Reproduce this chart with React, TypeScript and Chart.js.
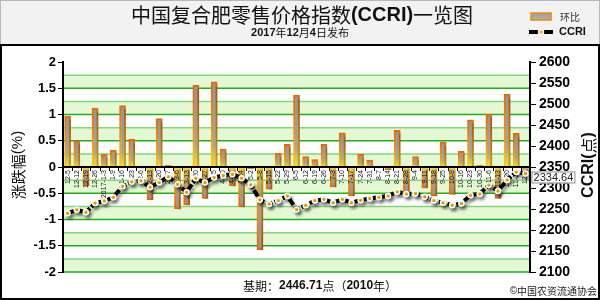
import React, { useEffect, useRef } from "react";
import { Chart, registerables } from "chart.js";

Chart.register(...registerables);

const categories: string[] = [
  "12-5", "12-12", "12-19", "12-26", "2017-1-3", "1-9", "1-16", "1-23", "2-6", "2-13",
  "2-20", "2-27", "3-6", "3-13", "3-20", "3-27", "4-5", "4-10", "4-17", "4-24",
  "5-2", "5-8", "5-15", "5-22", "5-29", "6-5", "6-12", "6-19", "6-26", "7-3",
  "7-10", "7-17", "7-24", "7-31", "8-7", "8-14", "8-21", "8-28", "9-4", "9-11",
  "9-18", "9-25", "10-9", "10-16", "10-23", "10-30", "11-6", "11-13", "11-20", "11-27",
  "12-4",
];

const changePct: number[] = [
  0.97, 0.5, -0.36, 1.12, 0.24, 0.32, 1.17, 0.53, -0.02, -0.62,
  0.92, 0.03, -0.8, -0.72, 1.56, -0.6, 1.62, 0.34, -0.36, -0.76,
  -0.03, -1.58, -0.42, 0.26, 0.43, 1.37, 0.2, 0.14, 0.43, -0.38,
  0.65, -0.55, 0.24, 0.13, 0.01, -0.05, 0.7, -0.5, 0.2, -0.4,
  -0.55, 0.48, -0.52, 0.3, 0.9, 0.03, 1.01, -0.6, 1.39, 0.64,
  -0.12,
];

const ccriIndex: number[] = [
  2240, 2248, 2242, 2264, 2269, 2278, 2304, 2315, 2317, 2302,
  2313, 2327, 2309, 2290, 2323, 2313, 2325, 2330, 2333, 2323,
  2308, 2272, 2262, 2270, 2281, 2249, 2259, 2270, 2273, 2265,
  2273, 2265, 2271, 2275, 2278, 2281, 2291, 2286, 2287, 2279,
  2270, 2265, 2259, 2263, 2283, 2286, 2307, 2293, 2319, 2338,
  2334.64,
];

const leftRange: number[] = [-2, 2, 0.5];
const rightRange: number[] = [2100, 2600, 50];

const TITLE = "中国复合肥零售价格指数(CCRI)一览图";
const SUBTITLE = "2017年12月4日发布";
const LEGEND_BAR = "环比";
const LEGEND_LINE = "CCRI";
const LEFT_TITLE = "涨跌幅(%)";
const RIGHT_TITLE = "CCRI(点)";
const BASE_NOTE = "基期：2446.71点（2010年）";
const COPYRIGHT = "©中国农资流通协会";

const LATIN = '"Liberation Sans", Arial, sans-serif';
const CJK = '"Noto Sans CJK SC", sans-serif';

function splitRuns(text: string) {
  const out: { t: string; cjk: boolean }[] = [];
  for (const ch of text) {
    const cjk = ch.charCodeAt(0) >= 0x2e80;
    if (out.length && out[out.length - 1].cjk === cjk) out[out.length - 1].t += ch;
    else out.push({ t: ch, cjk });
  }
  return out;
}

function drawMixed(
  ctx: CanvasRenderingContext2D,
  text: string,
  x: number,
  y: number,
  align: "left" | "center" | "right",
  size: number,
  latinWeight: string,
  cjkWeight: string,
  color: string
) {
  const runs = splitRuns(text);
  const fonts = runs.map((r) =>
    r.cjk ? `${cjkWeight} ${size}px ${CJK}` : `${latinWeight} ${size}px ${LATIN}`
  );
  let total = 0;
  const widths = runs.map((r, i) => {
    ctx.font = fonts[i];
    const w = ctx.measureText(r.t).width;
    total += w;
    return w;
  });
  let cx = align === "left" ? x : align === "center" ? x - total / 2 : x - total;
  ctx.fillStyle = color;
  ctx.textAlign = "left";
  ctx.textBaseline = "middle";
  runs.forEach((r, i) => {
    ctx.font = fonts[i];
    ctx.fillText(r.t, cx, y);
    cx += widths[i];
  });
}

const decorPlugin = {
  id: "decor",
  beforeDraw(chart: any) {
    const { ctx, chartArea: a, width, height } = chart;
    const ys = chart.scales.y;
    ctx.save();
    ctx.fillStyle = "#ffffff";
    ctx.fillRect(0, 0, width, height);
    ctx.fillStyle = "#f2f2f2";
    ctx.fillRect(0, 0, width, 45);
    ctx.strokeStyle = "#b8b8b8";
    ctx.lineWidth = 1;
    ctx.strokeRect(0.5, 0.5, width - 1, 45);
    drawMixed(ctx, TITLE, 302, 15.5, "center", 20, "bold", "normal", "#111");
    drawMixed(ctx, SUBTITLE, 300, 33, "center", 11, "bold", "normal", "#111");
    const g = ctx.createLinearGradient(0, 13, 0, 20);
    g.addColorStop(0, "#9aa0a8");
    g.addColorStop(1, "#b8b0a0");
    ctx.fillStyle = g;
    ctx.fillRect(531, 13, 20, 7);
    ctx.strokeStyle = "#f08a00";
    ctx.lineWidth = 1.5;
    ctx.strokeRect(531, 13, 20, 7);
    drawMixed(ctx, LEGEND_BAR, 560, 17, "left", 10, "normal", "normal", "#333");
    ctx.strokeStyle = "#000";
    ctx.lineWidth = 4;
    ctx.beginPath();
    ctx.moveTo(529, 32);
    ctx.lineTo(553, 32);
    ctx.stroke();
    ctx.beginPath();
    ctx.arc(541, 32, 2.5, 0, Math.PI * 2);
    ctx.fillStyle = "#ffb000";
    ctx.fill();
    ctx.strokeStyle = "#fff";
    ctx.lineWidth = 1.5;
    ctx.stroke();
    drawMixed(ctx, LEGEND_LINE, 559, 32, "left", 11, "bold", "bold", "#111");
    if (a && ys) {
      for (let k = 0; k < 16; k++) {
        const lo = leftRange[0] + k * 0.25;
        const hi = lo + 0.25;
        if (k % 2 === 0) {
          const yt = ys.getPixelForValue(hi);
          const yb = ys.getPixelForValue(lo);
          ctx.fillStyle = "#e3f8d3";
          ctx.fillRect(a.left, yt, a.right - a.left, yb - yt);
        }
      }
      for (let k = 0; k < 16; k++) {
        const v = leftRange[0] + k * 0.25;
        const y = ys.getPixelForValue(v);
        ctx.strokeStyle = k % 2 === 0 ? "#1fb01f" : "#7ed87e";
        ctx.lineWidth = 1.5;
        ctx.beginPath();
        ctx.moveTo(a.left, y);
        ctx.lineTo(a.right, y);
        ctx.stroke();
      }
    }
    ctx.restore();
  },
  beforeDatasetDraw(chart: any, args: any) {
    const ctx = chart.ctx;
    ctx.save();
    if (args.meta.type === "bar") {
      ctx.shadowColor = "rgba(0,0,0,0.3)";
      ctx.shadowOffsetX = 3;
      ctx.shadowOffsetY = 2;
      ctx.shadowBlur = 2;
    } else {
      ctx.shadowColor = "rgba(0,0,0,0.35)";
      ctx.shadowOffsetX = 2;
      ctx.shadowOffsetY = 3;
      ctx.shadowBlur = 3;
    }
  },
  afterDatasetDraw(chart: any, args: any) {
    const ctx = chart.ctx;
    ctx.restore();
    if (args.meta.type !== "bar") return;
    const a = chart.chartArea;
    const xs = chart.scales.x;
    const ys = chart.scales.y;
    const y0 = ys.getPixelForValue(0);
    ctx.save();
    ctx.strokeStyle = "#000";
    ctx.lineWidth = 2;
    ctx.beginPath();
    ctx.moveTo(a.left, y0);
    ctx.lineTo(a.right, y0);
    ctx.stroke();
    const step = xs.getPixelForValue(1) - xs.getPixelForValue(0);
    ctx.lineWidth = 1;
    for (let i = 0; i <= categories.length; i++) {
      const x = Math.round(xs.getPixelForValue(i) - step / 2) + 0.5;
      ctx.beginPath();
      ctx.moveTo(x, y0);
      ctx.lineTo(x, y0 + 4);
      ctx.stroke();
    }
    ctx.fillStyle = "#111";
    ctx.font = `7px ${LATIN}`;
    ctx.textAlign = "right";
    ctx.textBaseline = "middle";
    categories.forEach((lab, i) => {
      const x = xs.getPixelForValue(i);
      ctx.save();
      ctx.translate(x, y0 + 3);
      ctx.rotate(-Math.PI / 2);
      ctx.fillText(lab, 0, 0);
      ctx.restore();
    });
    ctx.restore();
  },
  afterDraw(chart: any) {
    const { ctx, width, height } = chart;
    ctx.save();
    const meta = chart.getDatasetMeta(0);
    const pt = meta.data[meta.data.length - 1];
    if (pt) {
      const bx = pt.x + 6;
      const by = pt.y - 2;
      ctx.fillStyle = "#ffffff";
      ctx.fillRect(bx, by, 44, 12);
      ctx.strokeStyle = "#8a8a8a";
      ctx.lineWidth = 1;
      ctx.strokeRect(bx + 0.5, by + 0.5, 43, 11);
      ctx.fillStyle = "#222";
      ctx.font = `11px ${LATIN}`;
      ctx.textAlign = "center";
      ctx.textBaseline = "middle";
      ctx.fillText(String(ccriIndex[ccriIndex.length - 1]), bx + 22, by + 6.5);
    }
    ctx.save();
    ctx.translate(18, 165);
    ctx.rotate(-Math.PI / 2);
    drawMixed(ctx, LEFT_TITLE, 0, 0, "center", 15, "normal", "normal", "#111");
    ctx.restore();
    ctx.save();
    ctx.translate(589, 165);
    ctx.rotate(-Math.PI / 2);
    drawMixed(ctx, RIGHT_TITLE, 0, 0, "center", 16, "bold", "normal", "#111");
    ctx.restore();
    drawMixed(ctx, BASE_NOTE, 243, 286, "left", 12, "bold", "normal", "#111");
    drawMixed(ctx, COPYRIGHT, 597, 291, "right", 10, "normal", "normal", "#222");
    ctx.strokeStyle = "#000";
    ctx.lineWidth = 2;
    ctx.beginPath();
    ctx.moveTo(0, 45);
    ctx.lineTo(width, 45);
    ctx.stroke();
    ctx.strokeRect(1, 45, width - 2, height - 46);
    ctx.restore();
  },
};

function barBg(c: any) {
  const chart = c.chart;
  const ys = chart.scales?.y;
  if (!chart.chartArea || !ys || typeof c.raw !== "number") return "#a0a0a8";
  const y0 = ys.getPixelForValue(0);
  const y1 = ys.getPixelForValue(c.raw);
  if (Math.abs(y1 - y0) < 2) return "#a0a0a8";
  const g = chart.ctx.createLinearGradient(0, y1, 0, y0);
  g.addColorStop(0, "#8e96a4");
  g.addColorStop(0.75, "#aaa59a");
  g.addColorStop(1, "#ffd84a");
  return g;
}

function barBorder(c: any) {
  const chart = c.chart;
  const ys = chart.scales?.y;
  if (!chart.chartArea || !ys || typeof c.raw !== "number") return "#f08000";
  const y0 = ys.getPixelForValue(0);
  const y1 = ys.getPixelForValue(c.raw);
  if (Math.abs(y1 - y0) < 2) return "#f08000";
  const g = chart.ctx.createLinearGradient(0, y1, 0, y0);
  g.addColorStop(0, "#e86800");
  g.addColorStop(0.6, "#f39a10");
  g.addColorStop(1, "#ffd200");
  return g;
}

export default function App() {
  const ref = useRef<HTMLCanvasElement | null>(null);
  useEffect(() => {
    if (!ref.current) return;
    const chart = new Chart(ref.current, {
      type: "bar",
      data: {
        labels: categories,
        datasets: [
          {
            type: "line",
            label: LEGEND_LINE,
            data: ccriIndex,
            yAxisID: "y1",
            borderColor: "#000000",
            borderWidth: 4,
            borderDash: [7, 2],
            pointRadius: 2.5,
            pointBackgroundColor: "#ffb000",
            pointBorderColor: "#ffffff",
            pointBorderWidth: 1.5,
            tension: 0,
            order: 0,
          } as any,
          {
            type: "bar",
            label: LEGEND_BAR,
            data: changePct,
            yAxisID: "y",
            barThickness: 6,
            backgroundColor: barBg,
            borderColor: barBorder,
            borderWidth: 2,
            order: 1,
          } as any,
        ],
      },
      options: {
        animation: false,
        responsive: true,
        maintainAspectRatio: false,
        events: [],
        layout: { padding: { top: 62, bottom: 28, left: 0, right: 0 } },
        plugins: { legend: { display: false }, tooltip: { enabled: false } },
        scales: {
          x: { display: false, offset: true },
          y: {
            position: "left",
            min: leftRange[0],
            max: leftRange[1],
            ticks: {
              stepSize: leftRange[2],
              color: "#000",
              font: { family: LATIN, size: 13, weight: "bold" },
              padding: 2,
              callback: (v: any) => String(Math.round(Number(v) * 100) / 100),
            },
            grid: { drawOnChartArea: false, drawTicks: true, tickLength: 5, color: "#000", lineWidth: 1 },
            border: { display: true, color: "#000", width: 2 },
            afterFit: (s: any) => {
              s.width = 63;
              s.paddingTop = 0;
              s.paddingBottom = 0;
            },
          },
          y1: {
            position: "right",
            min: rightRange[0],
            max: rightRange[1],
            ticks: {
              stepSize: rightRange[2],
              color: "#000",
              font: { family: LATIN, size: 14, weight: "bold" },
              padding: 3,
              callback: (v: any) => String(Math.round(Number(v))),
            },
            grid: { drawOnChartArea: false, drawTicks: true, tickLength: 6, color: "#000", lineWidth: 1 },
            border: { display: true, color: "#000", width: 2 },
            afterFit: (s: any) => {
              s.width = 70;
              s.paddingTop = 0;
              s.paddingBottom = 0;
            },
          },
        },
      } as any,
      plugins: [decorPlugin],
    });
    return () => chart.destroy();
  }, []);
  return (
    <div style={{ position: "absolute", left: 0, top: 0, width: 600, height: 300 }}>
      <canvas ref={ref} />
    </div>
  );
}
